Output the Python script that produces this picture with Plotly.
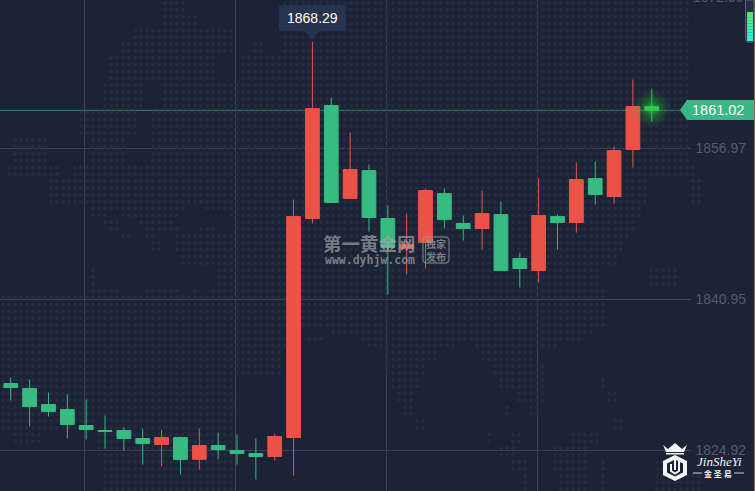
import plotly.graph_objects as go

# ---------- data ----------
candle_index = list(range(35))
open_price = [1832.03, 1831.50, 1829.81, 1829.28, 1827.58, 1827.05, 1827.05, 1826.20, 1825.56, 1826.30, 1824.00, 1825.46,
              1824.92, 1824.61, 1824.29, 1826.30, 1849.54, 1861.53, 1851.66, 1854.63, 1849.54, 1846.36, 1846.99, 1852.19,
              1849.01, 1848.48, 1849.96, 1845.30, 1844.02, 1849.75, 1849.12, 1853.78, 1851.87, 1856.86, 1861.42]
high_price = [1832.67, 1832.46, 1831.08, 1830.87, 1830.34, 1828.64, 1827.37, 1827.26, 1827.15, 1826.41, 1827.26, 1826.83,
              1826.62, 1826.20, 1826.73, 1851.56, 1868.29, 1862.38, 1858.66, 1855.27, 1850.92, 1850.07, 1852.72, 1852.72,
              1849.86, 1852.51, 1851.34, 1845.93, 1853.78, 1849.96, 1855.48, 1855.59, 1857.18, 1864.29, 1863.33]
low_price = [1830.23, 1827.47, 1828.53, 1826.20, 1826.09, 1825.14, 1824.92, 1823.44, 1823.23, 1822.38, 1822.91, 1823.97,
             1823.44, 1821.85, 1823.86, 1822.27, 1849.01, 1851.24, 1851.66, 1848.16, 1841.48, 1843.60, 1844.24, 1848.48,
             1847.21, 1846.25, 1844.02, 1842.22, 1842.75, 1846.25, 1848.05, 1851.03, 1851.13, 1854.95, 1859.83]
close_price = [1831.61, 1829.59, 1829.06, 1827.68, 1827.15, 1826.94, 1826.20, 1825.67, 1826.30, 1823.97, 1825.46, 1825.03,
               1824.61, 1824.29, 1826.41, 1849.75, 1861.21, 1851.24, 1854.74, 1849.65, 1846.46, 1846.78, 1852.51, 1849.43,
               1848.48, 1850.07, 1844.02, 1844.24, 1849.86, 1849.12, 1853.68, 1852.09, 1856.75, 1861.42, 1861.00]
price_ticks = [1824.92, 1840.95, 1856.97]
price_tick_labels = ["1824.92", "1840.95", "1856.97"]
top_tick_label = "1872.99"
last_price = 1861.02
peak_label = "1868.29"
time_grid = [3.905, 11.915, 19.925, 27.945]

# ---------- palette ----------
BG = "#1c2336"
RED = "#ec5347"
GREEN = "#36bb81"
GRID = "#3c4455"
TICK = "#555c6c"
W, H = 755, 491

# decorative world-map dot texture (page-pixel bands: y0, y1, x runs)
MAP_BANDS = [
    (0, 14, [(165, 183), (280, 690)]), (14, 28, [(160, 195), (280, 690)]), (28, 41, [(130, 235), (280, 690)]),
    (41, 55, [(120, 235), (255, 262), (280, 690)]), (55, 82, [(108, 215), (240, 690)]),
    (82, 110, [(100, 145), (160, 690)]), (110, 135, [(80, 135), (150, 690)]),
    (135, 165, [(10, 45), (90, 125), (150, 690)]), (165, 180, [(8, 60), (70, 695)]),
    (180, 203, [(48, 650), (690, 700)]), (203, 210, [(90, 187), (203, 640)]),
    (210, 216, [(90, 105), (120, 180), (227, 640)]), (216, 222, [(103, 110), (127, 180), (227, 640)]),
    (222, 229, [(103, 117), (138, 173), (232, 635)]), (229, 235, [(108, 122), (143, 180), (197, 217), (232, 635)]),
    (235, 242, [(120, 133), (143, 157), (173, 630)]), (242, 256, [(150, 163), (173, 625)]),
    (256, 264, [(180, 620)]), (264, 284, [(90, 98), (217, 600), (647, 680)]),
    (284, 290, [(90, 113), (150, 158), (213, 600), (647, 665)]),
    (290, 296, [(90, 120), (143, 177), (190, 200), (213, 608)]), (296, 325, [(0, 608)]),
    (325, 332, [(0, 280), (330, 593)]), (332, 345, [(0, 285), (305, 323), (363, 580)]),
    (345, 352, [(0, 285), (368, 453), (477, 560)]), (352, 366, [(0, 280), (387, 440), (480, 533)]),
    (366, 378, [(0, 280), (387, 425), (495, 543)]), (378, 392, [(0, 235), (392, 418), (498, 548), (598, 608)]),
    (392, 407, [(0, 235), (397, 415), (515, 547), (605, 618)]), (407, 420, [(0, 235), (400, 412), (505, 507), (530, 538)]),
    (420, 434, [(0, 95), (110, 235), (417, 423), (612, 623)]), (434, 447, [(13, 43), (97, 235), (487, 493), (510, 523), (570, 600)]),
    (447, 460, [(97, 235), (500, 517), (552, 590)]), (460, 474, [(100, 235), (512, 527), (552, 590), (600, 608), (653, 663)]),
    (474, 491, [(100, 235), (520, 530), (560, 590), (600, 608), (657, 700)]),
]
dot_x, dot_y = [], []
for r in range(72):
    py = 3 + r * 6.85
    for y0, y1, runs in MAP_BANDS:
        if y0 <= py < y1:
            for c in range(126):
                px = 3 + c * 6.0
                if any(a <= px <= b for a, b in runs):
                    dot_x.append(px)
                    dot_y.append(py)

fig = go.Figure()
fig.add_trace(go.Scatter(x=dot_x, y=dot_y, mode="markers", xaxis="x", yaxis="y", hoverinfo="skip",
                         marker=dict(size=4, color="#242c3f", line=dict(width=0))))
fig.add_trace(go.Candlestick(
    x=candle_index, open=open_price, high=high_price, low=low_price, close=close_price,
    xaxis="x2", yaxis="y2", whiskerwidth=0, hoverinfo="skip",
    increasing=dict(line=dict(color=RED, width=1), fillcolor=RED),
    decreasing=dict(line=dict(color=GREEN, width=1), fillcolor=GREEN)))
# soft glow on the live candle: concentric translucent discs
glow_sizes = [38, 34, 30, 26, 22, 18, 14, 10, 7]
glow_alpha = [0.05, 0.07, 0.08, 0.10, 0.12, 0.15, 0.2, 0.28, 0.38]
fig.add_trace(go.Scatter(
    x=[candle_index[-1]] * len(glow_sizes),
    y=[(open_price[-1] + close_price[-1]) / 2] * len(glow_sizes),
    mode="markers", xaxis="x2", yaxis="y2", hoverinfo="skip",
    marker=dict(size=glow_sizes, color=[f"rgba(45,215,45,{a})" for a in glow_alpha], line=dict(width=0))))

shapes = []
for t in price_ticks:
    shapes.append(dict(type="line", xref="x", yref="y2", x0=0, x1=691, y0=t, y1=t,
                       line=dict(color=GRID, width=1), layer="below"))
shapes.append(dict(type="line", xref="x", yref="y2", x0=0, x1=682, y0=last_price, y1=last_price,
                   line=dict(color="#2e8b6b", width=1), layer="below"))


def px_shape(path, fill=None, line=None, lw=1):
    shapes.append(dict(type="path", xref="x", yref="y", path=path, fillcolor=fill or "rgba(0,0,0,0)",
                       line=dict(color=line or "rgba(0,0,0,0)", width=lw if line else 0), layer="above"))


# tooltip
px_shape("M281,5 L344,5 Q346,5 346,7 L346,29 Q346,31 344,31 L319,31 L312,40 L305,31 L281,31 Q279,31 279,29 L279,7 Q279,5 281,5 Z", fill="#28344f")
# last price tag
px_shape("M680,110 L687,100 L755,100 L755,120 L687,120 Z", fill="#3ab883")
# right edge line
shapes.append(dict(type="line", xref="x", yref="y", x0=754.5, x1=754.5, y0=0, y1=491,
                   line=dict(color="#9c6238", width=1), layer="above"))
# gauge
px_shape("M745.5,0 L745.5,38 Q745.5,42.5 750,42.5 Q754,42.5 754,38 L754,0 Z", fill="#272c47", line="#565d70", lw=1)
gauge_colors = ["#5fe36b", "#58e678", "#50e985", "#48ec93", "#40eea2", "#38f0b0", "#32f2be", "#2cf3cc", "#28f4da", "#28f4e2"]
for i, col in enumerate(gauge_colors):
    y0 = 12 + i * 2.9
    shapes.append(dict(type="rect", xref="x", yref="y", x0=747, x1=753, y0=y0, y1=y0 + 3, fillcolor=col,
                       line=dict(width=0), layer="above"))
# logo
WHITE = "#f4f5f7"
px_shape("M663,445 L668,449 L675,443 L682,449 L687,445 L684,452 L666,452 Z", fill=WHITE)
px_shape("M666,453 L684,453 L684,454.5 L666,454.5 Z", fill=WHITE)
px_shape("M675,455 L687,461 L687,475 L675,481 L663,475 L663,461 Z", fill=WHITE)
px_shape("M675,459.5 L683,463.5 L683,472.5 L675,476.5 L667,472.5 L667,463.5 Z", fill=BG)
px_shape("M671,464 L671,471 L675,473.5 L679,471 L679,461", line=WHITE, lw=2)
px_shape("M675,456 L675,470", line=WHITE, lw=2)
px_shape("M693,473 L702,473", line="#cfd2d8", lw=1)
px_shape("M734,473 L744,473", line="#cfd2d8", lw=1)
# watermark badge
px_shape("M427,237 L445,237 Q449,237 449,241 L449,259 Q449,263 445,263 L427,263 Q423,263 423,259 L423,241 Q423,237 427,237 Z",
         line="rgba(150,152,158,0.6)", lw=1.5)


def note(text, x, y, size, color, family="Liberation Sans", xanchor="center", **kw):
    return dict(text=text, x=x, y=y, xref="x", yref="y", showarrow=False, xanchor=xanchor, yanchor="middle",
                font=dict(size=size, color=color, family=family), **kw)


WM = "rgba(165,167,172,0.68)"
CJK = "Noto Sans CJK SC"
annotations = [
    note(peak_label, 312.5, 18, 14, "#ffffff"),
    note(f"{last_price:.2f}", 717.5, 110, 14.5, "#ffffff"),
    note("<b>第一黄金网</b>", 369, 243, 18.5, WM, CJK),
    note("<b>www.dyhjw.com</b>", 370, 260, 11.5, WM, "DejaVu Sans Mono"),
    note("<b>独家</b>", 436, 243.5, 10, WM, CJK),
    note("<b>发布</b>", 436, 256, 10, WM, CJK),
    note("<i>JinSheYi</i>", 719, 461, 13, WHITE, "Liberation Serif"),
    note("<b>金 圣 易</b>", 718, 473.5, 8, WHITE, CJK),
    dict(text=top_tick_label, x=746, y=1 + 3 / H, xref="x", yref="paper", showarrow=False, xanchor="right",
         yanchor="middle", font=dict(size=14, color=TICK, family="Liberation Sans")),
]

fig.update_layout(
    width=W, height=H, autosize=False, margin=dict(l=0, r=0, t=0, b=0),
    paper_bgcolor=BG, plot_bgcolor=BG, showlegend=False, hovermode=False,
    boxgap=0.27, boxgroupgap=0, shapes=shapes, annotations=annotations,
    xaxis=dict(range=[0, W], visible=False, fixedrange=True),
    yaxis=dict(range=[H, 0], visible=False, fixedrange=True),
    xaxis2=dict(overlaying="x", range=[-0.571, 39.475], anchor="y2", side="bottom", tickmode="array", tickvals=time_grid,
                showticklabels=False, ticks="", showgrid=True, gridcolor=GRID, gridwidth=1, zeroline=False,
                showline=False, rangeslider=dict(visible=False), fixedrange=True),
    yaxis2=dict(overlaying="y", range=[1820.63, 1872.73], anchor="x2", side="right", tickmode="array",
                tickvals=price_ticks, ticktext=price_tick_labels, ticklabelposition="inside", ticklabelstandoff=6,
                ticks="", showgrid=False, zeroline=False, showline=False, fixedrange=True,
                tickfont=dict(size=14, color=TICK, family="Liberation Sans")),
)
fig.write_html("out.html", config={"displayModeBar": False},
               post_script="document.body.style.margin='0';document.body.style.background='%s';" % BG)
